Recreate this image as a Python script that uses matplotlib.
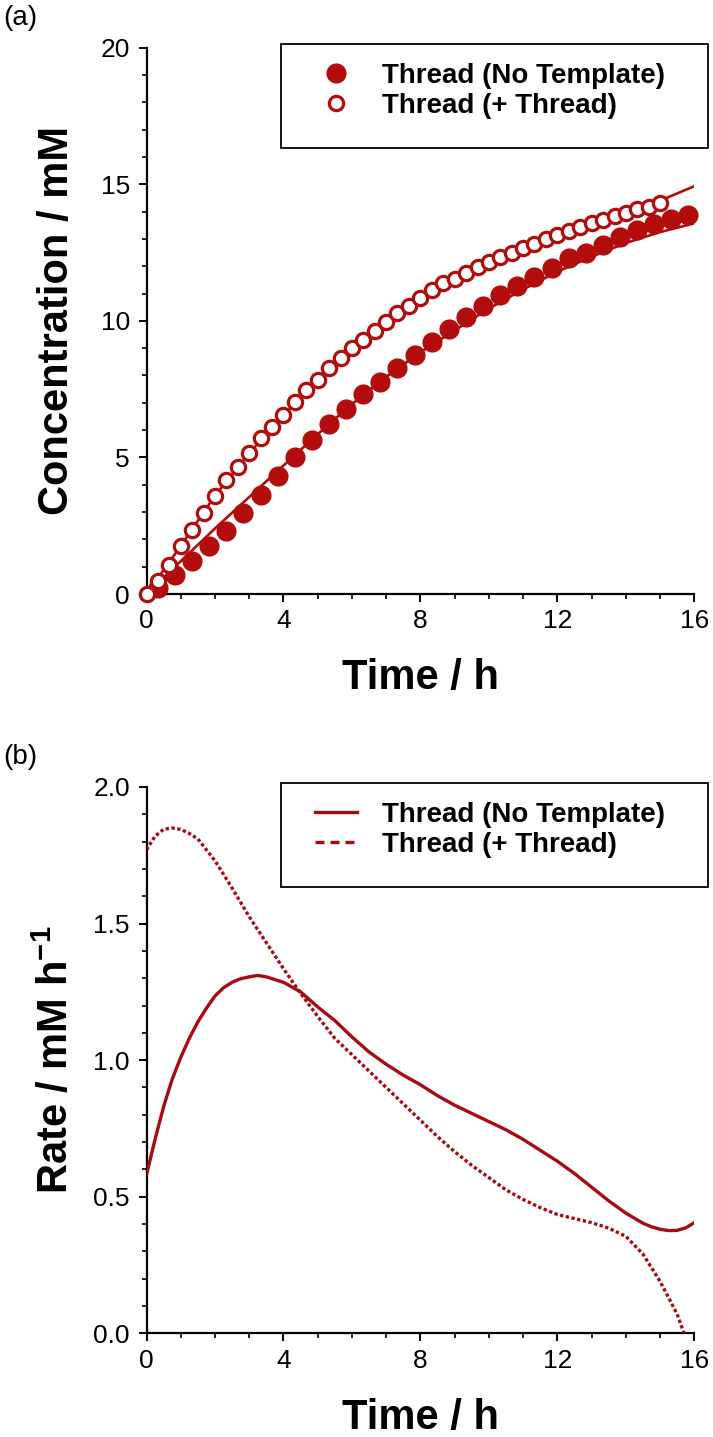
import matplotlib
matplotlib.use('Agg')
import matplotlib.pyplot as plt
from matplotlib.lines import Line2D
from matplotlib.patches import Rectangle
from matplotlib.ticker import MultipleLocator, FormatStrFormatter

plt.rcParams['font.family'] = ['Liberation Sans', 'DejaVu Sans']
plt.rcParams['mathtext.fontset'] = 'custom'
plt.rcParams['mathtext.rm'] = 'Liberation Sans'
plt.rcParams['mathtext.bf'] = 'Liberation Sans:bold'

# ---------------- data: panel (a) ----------------
t_no_template = [0.33, 0.83, 1.33, 1.83, 2.33, 2.83, 3.33, 3.83, 4.33, 4.83,
                 5.33, 5.83, 6.33, 6.83, 7.33, 7.83, 8.33, 8.83, 9.33, 9.83,
                 10.33, 10.83, 11.33, 11.83, 12.33, 12.83, 13.33, 13.83, 14.33,
                 14.83, 15.33, 15.83]
c_no_template = [0.21, 0.70, 1.21, 1.77, 2.30, 2.97, 3.62, 4.31, 5.00, 5.64,
                 6.21, 6.76, 7.33, 7.76, 8.26, 8.75, 9.22, 9.69, 10.14, 10.56,
                 10.96, 11.28, 11.62, 11.94, 12.29, 12.49, 12.77, 13.08, 13.31,
                 13.55, 13.73, 13.87]

t_plus_thread = [0.0, 0.33, 0.67, 1.0, 1.33, 1.67, 2.0, 2.33, 2.67, 3.0,
                 3.33, 3.67, 4.0, 4.33, 4.67, 5.0, 5.33, 5.67, 6.0, 6.33,
                 6.67, 7.0, 7.33, 7.67, 8.0, 8.33, 8.67, 9.0, 9.33, 9.67,
                 10.0, 10.33, 10.67, 11.0, 11.33, 11.67, 12.0, 12.33, 12.67,
                 13.0, 13.33, 13.67, 14.0, 14.33, 14.67, 15.0]
c_plus_thread = [0.0, 0.49, 1.06, 1.76, 2.34, 2.95, 3.60, 4.17, 4.66, 5.15,
                 5.70, 6.10, 6.55, 7.04, 7.47, 7.83, 8.26, 8.63, 8.99, 9.30,
                 9.62, 9.97, 10.27, 10.55, 10.83, 11.13, 11.37, 11.55, 11.76,
                 11.98, 12.16, 12.32, 12.49, 12.65, 12.81, 12.98, 13.14, 13.30,
                 13.45, 13.59, 13.71, 13.84, 13.96, 14.08, 14.18, 14.33]

fit_t = [0, 1, 2, 3, 4, 5, 6, 7, 8, 9, 10, 11, 12, 13, 14, 15, 16]
fit_no_template = [0.0, 1.20, 2.40, 3.55, 4.70, 5.85, 6.95, 7.95, 8.85, 9.65,
                   10.45, 11.15, 11.80, 12.35, 12.85, 13.25, 13.57]
fit_plus_thread = [0.0, 1.76, 3.60, 5.15, 6.55, 7.83, 8.99, 9.97, 10.83, 11.55,
                   12.16, 12.65, 13.14, 13.59, 13.98, 14.40, 14.93]

# ---------------- data: panel (b) ----------------
rate_t = [0.0, 0.25, 0.5, 0.75, 1.0, 1.25, 1.5, 1.75, 2.0, 2.25, 2.5, 2.75,
          3.0, 3.25, 3.5, 4.0, 4.5, 5.0, 5.5, 6.0, 6.5, 7.0, 7.5, 8.0, 8.5,
          9.0, 9.5, 10.0, 10.5, 11.0, 11.5, 12.0, 12.5, 13.0, 13.5, 14.0,
          14.5, 14.75, 15.0, 15.25, 15.5, 15.75, 16.0]
rate_no_template = [0.58, 0.71, 0.83, 0.93, 1.01, 1.08, 1.14, 1.19, 1.235,
                    1.265, 1.285, 1.298, 1.305, 1.31, 1.305, 1.285, 1.25,
                    1.195, 1.145, 1.085, 1.03, 0.985, 0.945, 0.91, 0.87, 0.835,
                    0.805, 0.775, 0.745, 0.71, 0.67, 0.63, 0.585, 0.535, 0.485,
                    0.44, 0.403, 0.39, 0.381, 0.376, 0.377, 0.386, 0.405]
rate_plus_t = [0.0, 0.25, 0.5, 0.75, 1.0, 1.25, 1.5, 1.75, 2.0, 2.5, 3.0, 3.5,
               4.0, 4.5, 5.0, 5.5, 6.0, 6.5, 7.0, 7.5, 8.0, 8.5, 9.0, 9.5, 10.0,
               10.5, 11.0, 11.5, 12.0, 12.5, 13.0, 13.5, 14.0, 14.5, 15.0,
               15.5, 15.7]
rate_plus_thread = [1.77, 1.82, 1.845, 1.85, 1.845, 1.83, 1.81, 1.77, 1.73,
                    1.63, 1.525, 1.43, 1.335, 1.245, 1.16, 1.08, 1.02, 0.96,
                    0.90, 0.84, 0.78, 0.72, 0.665, 0.615, 0.57, 0.525, 0.49,
                    0.46, 0.435, 0.42, 0.405, 0.385, 0.355, 0.29, 0.19, 0.07, 0.0]

labels = ['Thread (No Template)', 'Thread (+ Thread)']
xticks = [0, 4, 8, 12, 16]
yticks_a = [0, 5, 10, 15, 20]
yticks_b = [0.0, 0.5, 1.0, 1.5, 2.0]

RED = '#B20C0C'
RED2 = '#A80A12'

W, H = 713, 1437
fig = plt.figure(figsize=(W / 100, H / 100), dpi=100)


def px_rect(l, t, r, b):
    return [l / W, 1 - b / H, (r - l) / W, (b - t) / H]


ax1 = fig.add_axes(px_rect(146.5, 47.7, 694.3, 594))
ax2 = fig.add_axes(px_rect(146.5, 787, 694.3, 1333.3))


def style(ax):
    for s in ['top', 'right']:
        ax.spines[s].set_visible(False)
    for s in ['left', 'bottom']:
        ax.spines[s].set_linewidth(1.6)
    ax.tick_params(which='major', direction='out', length=6, width=1.4,
                   labelsize=19)
    ax.tick_params(which='minor', direction='out', length=3.5, width=1.2)
    ax.tick_params(axis='y', pad=6)
    ax.tick_params(axis='x', pad=5)
    ax.set_xlim(0, 16)
    ax.set_xticks(xticks)
    ax.xaxis.set_minor_locator(MultipleLocator(1))
    ax.set_xlabel('Time / h', fontsize=30, fontweight='bold')
    ax.xaxis.set_label_coords(0.5, -0.118)


# ---- panel (a)
style(ax1)
ax1.set_ylim(0, 20)
ax1.set_yticks(yticks_a)
ax1.yaxis.set_minor_locator(MultipleLocator(1))
ax1.plot(fit_t, fit_no_template, color=RED, lw=1.9, zorder=2)
ax1.plot(fit_t, fit_plus_thread, color=RED, lw=1.9, zorder=2)
ax1.plot(t_no_template, c_no_template, 'o', color=RED, ms=14.5, mew=0,
         clip_on=False, zorder=3)
ax1.plot(t_plus_thread, c_plus_thread, 'o', mfc='white', mec=RED, ms=10.3,
         mew=2.3, clip_on=False, zorder=4)
ax1.set_ylabel('Concentration / mM', fontsize=30, fontweight='bold')
ax1.yaxis.set_label_coords(-0.127, 0.5)

# ---- panel (b)
style(ax2)
ax2.set_ylim(0, 2.0)
ax2.set_yticks(yticks_b)
ax2.yaxis.set_major_formatter(FormatStrFormatter('%.1f'))
ax2.yaxis.set_minor_locator(MultipleLocator(0.1))
ax2.plot(rate_t, rate_no_template, color=RED2, lw=2.4, zorder=3)
ax2.plot(rate_plus_t, rate_plus_thread, color=RED2, lw=2.4,
         linestyle=(0, (1, 0.75)), dash_capstyle='butt', zorder=3)
ax2.set_ylabel(r'Rate / mM h$^{\mathbf{-1}}$', fontsize=30, fontweight='bold')
ax2.yaxis.set_label_coords(-0.127, 0.5)

# ---- legends (frame drawn as a rectangle)
leg_kw = dict(loc='upper left', bbox_transform=fig.transFigure, frameon=False,
              borderpad=0, borderaxespad=0, handlelength=1.5,
              handletextpad=0.9, labelspacing=0.15,
              prop={'size': 20, 'weight': 'bold'})

h_a = [Line2D([], [], ls='none', marker='o', color=RED, ms=14.5, mew=0),
       Line2D([], [], ls='none', marker='o', mfc='white', mec=RED, ms=10.3,
              mew=2.3)]
ax1.legend(h_a, labels, bbox_to_anchor=(315 / W, 1 - 63 / H), **leg_kw)
fig.add_artist(Rectangle((281 / W, 1 - 148 / H), 427 / W, 104 / H,
                         transform=fig.transFigure, fill=False, lw=1.3,
                         ec='black'))

h_b = [Line2D([], [], color=RED2, lw=2.4),
       Line2D([], [], color=RED2, lw=2.4, ls=(0, (2.7, 1.8)),
              dash_capstyle='butt')]
ax2.legend(h_b, labels, bbox_to_anchor=(315 / W, 1 - 802 / H), **leg_kw)
fig.add_artist(Rectangle((281 / W, 1 - 887 / H), 427 / W, 104 / H,
                         transform=fig.transFigure, fill=False, lw=1.3,
                         ec='black'))

fig.text(20 / W, 1 - 18 / H, '(a)', ha='center', va='center', fontsize=20)
fig.text(20 / W, 1 - 757 / H, '(b)', ha='center', va='center', fontsize=20)

fig.savefig('out.png', dpi=100)
